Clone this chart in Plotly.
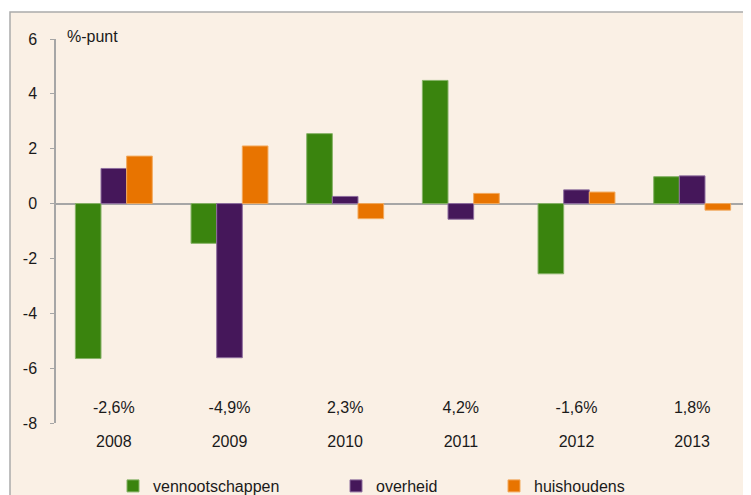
import plotly.graph_objects as go

# values (%-punt)
jaren = ["2008", "2009", "2010", "2011", "2012", "2013"]
vennootschappen = [-5.65, -1.45, 2.55, 4.49, -2.56, 0.98]
overheid = [1.28, -5.62, 0.26, -0.57, 0.50, 1.01]
huishoudens = [1.73, 2.10, -0.55, 0.37, 0.42, -0.24]
totaal_labels = ["-2,6%", "-4,9%", "2,3%", "4,2%", "-1,6%", "1,8%"]
label_hoogte = [-7.5] * len(jaren)
y_ticks = [-8, -6, -4, -2, 0, 2, 4, 6]
y_ticktext = ["-8", "-6", "-4", "-2", "0", "2", "4", "6"]

font_family = "Liberation Sans, Arial, sans-serif"
text_color = "#1a1a1a"
bg = "#FAF0E5"

# the page body has an 8px margin, so the figure is laid out in window pixels minus 8
OFF = 8
W, H = 751 - OFF, 495 - OFF
ml, mr, mt, mb = 56 - OFF, 1, 39 - OFF, 495 - 423
pw = W - ml - mr
ph = H - mt - mb


def px_x(p):
    return (p - OFF - ml) / pw


def px_y(p):
    return 1 - (p - OFF - mt) / ph


series = [
    ("vennootschappen", vennootschappen, "#3A840E", "#86B266", "legend"),
    ("overheid", overheid, "#45175A", "#8E6E9E", "legend2"),
    ("huishoudens", huishoudens, "#E87400", "#F2A95C", "legend3"),
]

fig = go.Figure()
for naam, waarden, kleur, rand, leg in series:
    fig.add_trace(
        go.Bar(
            x = jaren,
            y = waarden,
            name = naam,
            marker = dict(color = kleur, line = dict(color = rand, width = 1)),
            legend = leg
        )
    )

fig.add_trace(
    go.Scatter(
        x = jaren,
        y = label_hoogte,
        mode = "text",
        text = totaal_labels,
        textfont = dict(size = 16, color = text_color, family = font_family),
        showlegend = False,
        hoverinfo = "skip"
    )
)

legend_style = dict(
    orientation = "h",
    xanchor = "left",
    yanchor = "middle",
    y = px_y(486),
    bgcolor = "rgba(0,0,0,0)",
    font = dict(size = 16, color = text_color, family = font_family),
    itemclick = False,
)

fig.update_layout(
    width = W,
    height = H,
    margin = dict(l = ml, r = mr, t = mt, b = mb, pad = 0, autoexpand = False),
    paper_bgcolor = "white",
    plot_bgcolor = "rgba(0,0,0,0)",
    font = dict(family = font_family, size = 16, color = text_color),
    barmode = "group",
    bargap = 0.335,
    bargroupgap = 0,
    showlegend = True,
    legend = dict(legend_style, x = px_x(152 - 39)),
    legend2 = dict(legend_style, x = px_x(375 - 39)),
    legend3 = dict(legend_style, x = px_x(533 - 39)),
    xaxis = dict(
        showline = False,
        showgrid = False,
        zeroline = False,
        ticks = "",
        tickfont = dict(size = 16),
        ticklabelstandoff = 7,
        automargin = False,
    ),
    yaxis = dict(
        range = [-8, 6],
        tickvals = y_ticks,
        ticktext = y_ticktext,
        showgrid = False,
        showline = True,
        linecolor = "#A6A6A6",
        linewidth = 1.5,
        ticks = "outside",
        ticklen = 4,
        tickcolor = "#A6A6A6",
        tickwidth = 1,
        ticklabelstandoff = 10,
        zeroline = True,
        zerolinecolor = "#A6A6A6",
        zerolinewidth = 1.5,
        tickfont = dict(size = 16),
        automargin = False,
    ),
    shapes = [
        dict(
            type = "rect",
            xref = "paper",
            yref = "paper",
            x0 = px_x(10),
            x1 = px_x(770),
            y0 = px_y(520),
            y1 = px_y(12),
            fillcolor = bg,
            line = dict(color = "#ABABAB", width = 1.5),
            layer = "below",
        )
    ],
    annotations = [
        dict(
            text = "%-punt",
            xref = "paper",
            yref = "paper",
            x = px_x(65),
            y = px_y(36),
            xanchor = "left",
            yanchor = "middle",
            showarrow = False,
            font = dict(size = 16, color = text_color),
        )
    ],
)

fig.write_html("out.html")
